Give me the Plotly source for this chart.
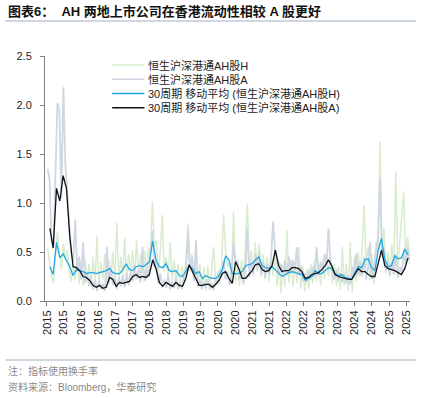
import pandas as pd
import plotly.graph_objects as go

# ---------------- data ----------------
series_names = ["恒生沪深港通AH股H", "恒生沪深港通AH股A",
                "30周期 移动平均 (恒生沪深港通AH股H)", "30周期 移动平均 (恒生沪深港通AH股A)"]
series_colors = ["#D9ECCF", "#CFD7E2", "#1FA8E3", "#111111"]
series_widths = [1.5, 1.8, 1.3, 1.3]

# raw weekly turnover (sampled every 3 weeks)
raw_H = [0.55, 0.40, 0.25, 0.18, 0.45, 0.70, 0.50, 0.32, 0.58, 0.42, 0.52, 0.30, 0.20,
         0.38, 0.22, 0.45, 0.18, 0.40, 0.15, 0.42, 0.20, 0.38, 0.14, 0.45, 0.20,
         0.66, 0.16, 0.40, 0.22, 0.48, 0.18, 0.42, 0.25, 0.50, 0.18,
         0.80, 0.22, 0.45, 0.25, 0.65, 0.22, 0.48, 0.28, 0.52, 0.24,
         0.62, 0.26, 0.48, 0.28, 0.52, 0.25, 0.55, 0.45, 1.01, 0.55,
         0.62, 0.28, 0.50, 0.88, 0.30, 0.45, 0.22, 0.60, 0.20, 0.42,
         0.18, 0.38, 0.15, 0.36, 0.20, 0.45, 0.79, 0.30, 0.48, 0.22,
         0.40, 0.15, 0.38, 0.12, 0.35, 0.10, 0.36, 0.12, 0.32, 0.55,
         0.15, 0.30, 0.18, 0.40, 0.88, 0.50, 0.35, 0.40, 0.18, 0.91,
         0.20, 0.40, 0.15, 0.42, 0.20, 0.55, 0.99, 0.30, 0.52, 0.25,
         0.60, 0.30, 0.58, 0.25, 0.48, 0.22, 0.45, 0.20, 0.48, 0.25,
         0.50, 0.15, 0.40, 0.08, 0.36, 0.15, 0.72, 0.18, 0.42, 0.15,
         0.40, 0.18, 0.55, 0.12, 0.35, 0.10, 0.32, 0.12, 0.38, 0.18,
         0.42, 0.20, 0.38, 0.16, 0.42, 0.22, 0.48, 0.25, 0.45, 0.18,
         0.38, 0.15, 0.36, 0.12, 0.55, 0.15, 0.38, 0.10, 0.60, 0.08,
         0.45, 0.20, 0.50, 0.25, 0.55, 0.98, 0.35, 0.55, 0.22, 0.48,
         0.18, 0.60, 0.50, 1.63, 0.55, 0.75, 0.28, 0.50, 0.25, 0.58,
         0.30, 1.32, 0.35, 0.60, 0.85, 1.12, 0.40, 0.65, 0.38]

raw_A = [1.35, 1.25, 0.62, 0.55, 1.30, 2.02, 1.95, 1.05, 2.18, 1.40, 1.10, 0.72, 0.48,
         0.40, 0.83, 0.30, 0.45, 0.22, 0.60, 0.18, 0.30, 0.15, 0.26, 0.12, 0.22,
         0.10, 0.20, 0.12, 0.18, 0.10, 0.55, 0.18, 0.35, 0.16, 0.25,
         0.12, 0.24, 0.15, 0.26, 0.14, 0.28, 0.16, 0.30, 0.20, 0.36,
         0.22, 0.32, 0.19, 0.55, 0.20, 0.32, 0.24, 0.45, 0.72, 0.35,
         0.42, 0.18, 0.28, 0.14, 0.22, 0.13, 0.26, 0.12, 0.20, 0.13,
         0.24, 0.12, 0.19, 0.12, 0.26, 0.30, 0.72, 0.33, 0.45, 0.20,
         0.62, 0.14, 0.22, 0.12, 0.20, 0.13, 0.22, 0.12, 0.18, 0.11,
         0.24, 0.17, 0.32, 0.24, 0.42, 0.22, 0.30, 0.16, 0.26, 0.60,
         0.38, 0.42, 0.22, 0.28, 0.17, 0.30, 0.75, 0.24, 0.40, 0.28,
         0.48, 0.32, 0.50, 0.26, 0.40, 0.24, 0.38, 0.27, 0.45, 0.81,
         0.50, 0.42, 0.26, 0.38, 0.25, 0.42, 0.26, 0.45, 0.28, 0.42,
         0.30, 0.55, 0.26, 0.36, 0.20, 0.28, 0.19, 0.32, 0.22, 0.35,
         0.24, 0.55, 0.26, 0.40, 0.30, 0.48, 0.36, 0.74, 0.40, 0.30,
         0.22, 0.32, 0.20, 0.29, 0.19, 0.27, 0.18, 0.26, 0.17, 0.35,
         0.24, 0.48, 0.27, 0.40, 0.25, 0.45, 0.22, 0.35, 0.60, 0.22,
         0.38, 0.50, 0.65, 1.25, 0.45, 0.55, 0.30, 0.42, 0.26, 0.40,
         0.27, 0.48, 0.24, 0.35, 0.28, 0.50, 0.38, 0.55, 0.42]

# 30-period moving averages (sampled every 5 weeks)
ma_H = [0.35, 0.27, 0.60, 0.44, 0.48, 0.42, 0.35, 0.26, 0.32, 0.31,
        0.30, 0.28, 0.29, 0.29, 0.28, 0.29, 0.30, 0.31, 0.33, 0.29,
        0.28, 0.28, 0.32, 0.38, 0.32, 0.31, 0.35, 0.36, 0.35, 0.37,
        0.40, 0.61, 0.42, 0.35, 0.34, 0.38, 0.31, 0.30, 0.31, 0.26,
        0.25, 0.30, 0.36, 0.33, 0.28, 0.30, 0.23, 0.26, 0.24, 0.23,
        0.23, 0.26, 0.32, 0.46, 0.42, 0.28, 0.28, 0.28, 0.30, 0.36,
        0.37, 0.38, 0.42, 0.45, 0.36, 0.34, 0.33, 0.35, 0.32, 0.28,
        0.25, 0.27, 0.29, 0.30, 0.29, 0.28, 0.27, 0.21, 0.23, 0.25,
        0.31, 0.28, 0.28, 0.31, 0.34, 0.33, 0.28, 0.26, 0.27, 0.24,
        0.23, 0.22, 0.29, 0.35, 0.34, 0.42, 0.43, 0.34, 0.31, 0.52,
        0.64, 0.42, 0.35, 0.36, 0.46, 0.43, 0.44, 0.53, 0.47]

ma_A = [0.74, 0.54, 1.15, 1.02, 1.28, 1.15, 0.66, 0.35, 0.34, 0.31,
        0.25, 0.24, 0.21, 0.16, 0.14, 0.16, 0.13, 0.14, 0.24, 0.22,
        0.15, 0.19, 0.18, 0.19, 0.20, 0.25, 0.27, 0.24, 0.25, 0.24,
        0.27, 0.42, 0.33, 0.19, 0.15, 0.19, 0.17, 0.15, 0.19, 0.16,
        0.15, 0.23, 0.37, 0.30, 0.22, 0.16, 0.16, 0.17, 0.17, 0.14,
        0.17, 0.21, 0.28, 0.30, 0.23, 0.18, 0.40, 0.33, 0.23, 0.23,
        0.27, 0.31, 0.37, 0.38, 0.32, 0.30, 0.31, 0.36, 0.52, 0.36,
        0.30, 0.31, 0.31, 0.34, 0.34, 0.33, 0.30, 0.23, 0.24, 0.27,
        0.28, 0.29, 0.32, 0.36, 0.42, 0.36, 0.27, 0.25, 0.24, 0.23,
        0.22, 0.22, 0.28, 0.33, 0.30, 0.30, 0.27, 0.25, 0.25, 0.40,
        0.52, 0.36, 0.33, 0.32, 0.31, 0.29, 0.27, 0.33, 0.44]

tick_years = [y for y in range(2015, 2026) for _ in (1, 7)]
tick_months = [m for _ in range(2015, 2026) for m in (1, 7)]

title_text = "图表6：  AH 两地上市公司在香港流动性相较 A 股更好"
note_text = "注：指标使用换手率"
source_text = "资料来源：Bloomberg，华泰研究"

# ---------------- dates ----------------
raw_dates = pd.date_range("2015-01-07", "2025-08-08", periods=len(raw_H))
ma_dates = pd.date_range("2015-02-01", "2025-07-22", periods=len(ma_H))
tick_vals = [pd.Timestamp(year=y, month=m, day=1) for y, m in zip(tick_years, tick_months)]
tick_text = [str(y) for y in tick_years]

# ---------------- figure ----------------
W, H = 423, 398
L, R, T, B = 45, 11, 56, 97
PW, PH = W - L - R, H - T - B


def px_x(px):
    return (px - L) / PW


def px_y(py):
    return (H - B - py) / PH


LATIN = "Liberation Sans, Arial, Noto Sans CJK SC"

fig = go.Figure()
for name, xs, ys, col, w in zip(series_names,
                                [raw_dates, raw_dates, ma_dates, ma_dates],
                                [raw_H, raw_A, ma_H, ma_A],
                                series_colors, series_widths):
    fig.add_trace(go.Scatter(x=xs, y=ys, mode="lines", name=name,
                             line=dict(color=col, width=w), showlegend=False))

# manual legend (compact rows like the original)
leg_rows = [65, 79.3, 93.5, 107.7]
shapes = []
annotations = []
for name, col, py in zip(series_names, series_colors, leg_rows):
    shapes.append(dict(type="line", xref="paper", yref="paper",
                       x0=px_x(112.5), x1=px_x(145), y0=px_y(py), y1=px_y(py),
                       line=dict(color=col, width=1.6)))
    annotations.append(dict(text=name, xref="paper", yref="paper", x=px_x(146.5), y=px_y(py),
                            xanchor="left", yanchor="middle", showarrow=False,
                            font=dict(family=LATIN, size=11, color="#222222")))

# separators
for py in (21, 360):
    shapes.append(dict(type="line", xref="paper", yref="paper",
                       x0=px_x(5), x1=px_x(418), y0=px_y(py), y1=px_y(py),
                       line=dict(color="#9DB0C6", width=1.2)))

annotations.append(dict(text=note_text, xref="paper", yref="paper", x=px_x(6), y=px_y(371),
                        xanchor="left", yanchor="middle", showarrow=False,
                        font=dict(family="Noto Sans CJK SC", size=10, color="#8A8A8A")))
annotations.append(dict(text=source_text, xref="paper", yref="paper", x=px_x(6), y=px_y(387),
                        xanchor="left", yanchor="middle", showarrow=False,
                        font=dict(family=LATIN, size=10, color="#8A8A8A")))
annotations.append(dict(text="<b>" + title_text + "</b>", xref="paper", yref="paper",
                        x=px_x(6), y=px_y(11), xanchor="left", yanchor="middle", showarrow=False,
                        font=dict(family=LATIN, size=13, color="#111111")))

fig.update_layout(
    width=W, height=H,
    margin=dict(l=L, r=R, t=T, b=B, pad=0),
    paper_bgcolor="white", plot_bgcolor="white",
    shapes=shapes, annotations=annotations,
    xaxis=dict(type="date", range=["2014-12-11", "2025-08-12"],
               tickmode="array", tickvals=tick_vals, ticktext=tick_text,
               tickangle=-90, ticks="outside", ticklen=4, tickcolor="#808080",
               showline=True, linecolor="#808080", linewidth=1,
               showgrid=False, zeroline=False,
               tickfont=dict(family=LATIN, size=11, color="#222222")),
    yaxis=dict(range=[0, 2.5], tickvals=[0, 0.5, 1.0, 1.5, 2.0, 2.5], tickformat=".1f",
               ticks="outside", ticklen=4, tickcolor="#808080",
               showline=True, linecolor="#808080", linewidth=1,
               showgrid=False, zeroline=False, ticklabelstandoff=6,
               tickfont=dict(family=LATIN, size=11, color="#222222")),
)

fig.write_html("out.html", config={"displayModeBar": False},
               post_script="document.body.style.margin='0';document.body.style.padding='0';")
